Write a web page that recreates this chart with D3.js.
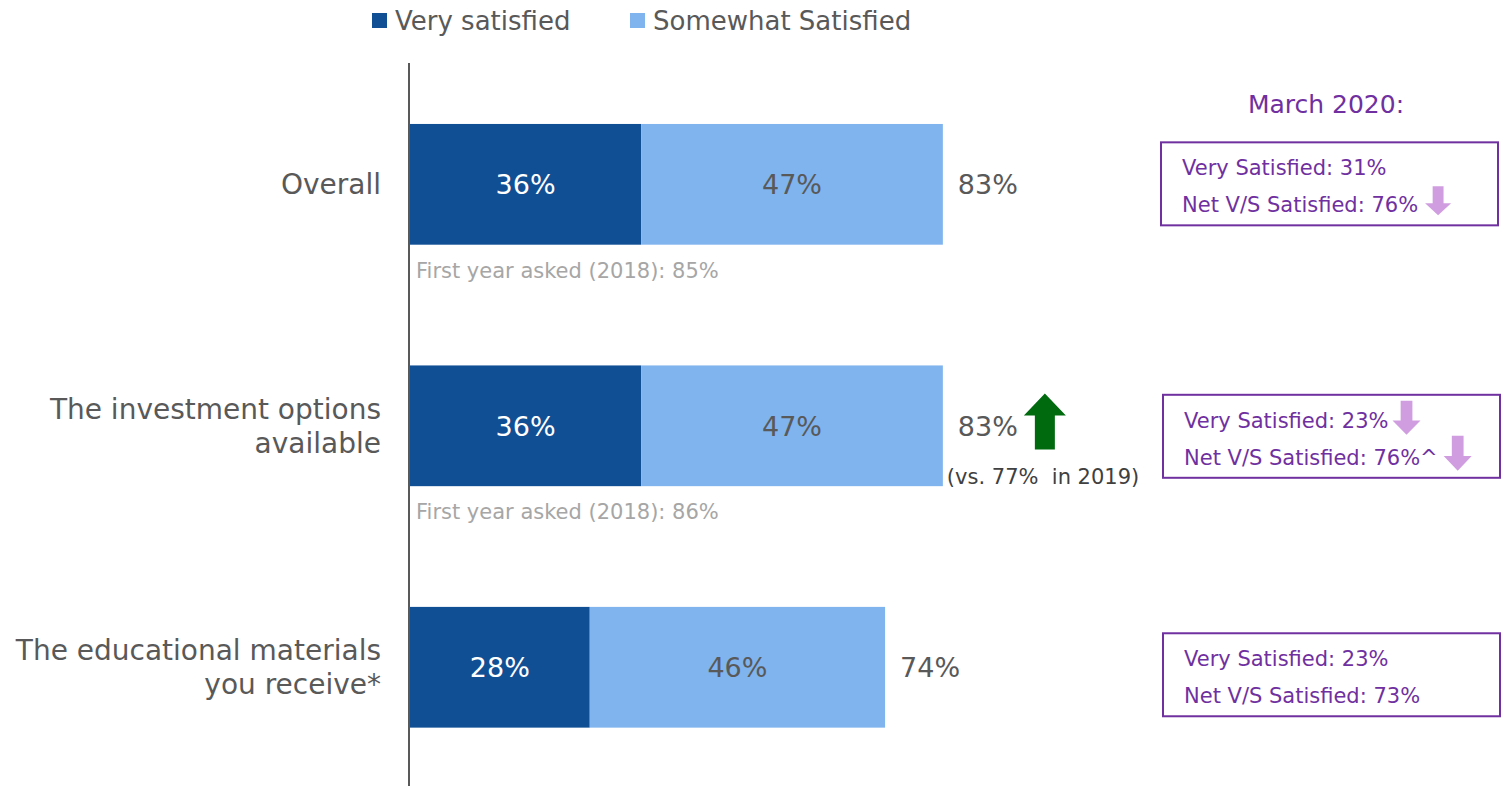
<!DOCTYPE html>
<html>
<head>
<meta charset="utf-8">
<script src="https://cdn.jsdelivr.net/npm/d3@7"></script>
<style>
  html, body { margin: 0; padding: 0; background: #fff; }
  svg { display: block; }
  text { font-family: "Century Gothic", "DejaVu Sans", sans-serif; white-space: pre; }
</style>
</head>
<body>
<svg id="chart" width="1505" height="786"></svg>
<script>
// ---- data ----
const categories = ["Overall", "The investment options available", "The educational materials you receive*"];
const categoryLines = [["Overall"], ["The investment options", "available"], ["The educational materials", "you receive*"]];
const seriesNames = ["Very satisfied", "Somewhat Satisfied"];
const verySatisfied = [36, 36, 28];
const somewhatSatisfied = [47, 47, 46];
const netSatisfied = [83, 83, 74];
const firstYearNotes = ["First year asked (2018): 85%", "First year asked (2018): 86%", ""];
const trendNote = ["", "(vs. 77%  in 2019)", ""];
const trendUp = [false, true, false];
const marchTitle = "March 2020:";
const marchVery = [31, 23, 23];
const marchNet = [76, 76, 73];
const marchNetSuffix = ["", "^", ""];
const marchVeryDown = [false, true, false];
const marchNetDown = [true, true, false];

// ---- layout / styles ----
const boxShift = [0, 11, 8];
const boxLeft = [1161, 1163, 1163];
const C_DARK = "#114f95", C_LIGHT = "#80b4ee", C_TEXT = "#595959", C_NOTE = "#a6a6a6";
const C_PURPLE = "#7030a0", C_LPURPLE = "#d09ee0", C_GREEN = "#006a0e";

const svg = d3.select("#chart");

const x = d3.scaleLinear().domain([0, 100]).range([410, 1052]);
const y = d3.scaleBand().domain(categories).range([63.6, 788]).paddingInner(0.5).paddingOuter(0.25);
const color = d3.scaleOrdinal().domain(seriesNames).range([C_DARK, C_LIGHT]);

const rows = categories.map((c, i) => ({
  cat: c, i,
  segs: [
    { name: seriesNames[0], x0: 0, x1: verySatisfied[i], v: verySatisfied[i] },
    { name: seriesNames[1], x0: verySatisfied[i], x1: verySatisfied[i] + somewhatSatisfied[i], v: somewhatSatisfied[i] }
  ]
}));

// bars
const g = svg.append("g");
rows.forEach(r => {
  r.segs.forEach((s, k) => {
    g.append("rect")
      .attr("x", x(s.x0)).attr("y", y(r.cat))
      .attr("width", x(s.x1) - x(s.x0)).attr("height", y.bandwidth())
      .attr("fill", color(s.name));
    g.append("text")
      .attr("x", (x(s.x0) + x(s.x1)) / 2).attr("y", y(r.cat) + y.bandwidth() / 2)
      .attr("dy", "0.36em").attr("text-anchor", "middle")
      .attr("font-size", 27).attr("fill", k === 0 ? "#fff" : C_TEXT)
      .text(s.v + "%");
  });
  // total
  g.append("text")
    .attr("x", x(netSatisfied[r.i]) + 15).attr("y", y(r.cat) + y.bandwidth() / 2)
    .attr("dy", "0.36em").attr("font-size", 27).attr("fill", C_TEXT)
    .text(netSatisfied[r.i] + "%");
  // first-year note
  if (firstYearNotes[r.i]) {
    g.append("text")
      .attr("x", x(0) + 6).attr("y", y(r.cat) + y.bandwidth() + 33)
      .attr("font-size", 21).attr("fill", C_NOTE)
      .text(firstYearNotes[r.i]);
  }
  if (trendUp[r.i]) {
    const cx = x(netSatisfied[r.i]) + 102, top = y(r.cat) + 28;
    g.append("path")
      .attr("d", `M${cx},${top} L${cx + 21},${top + 22} L${cx + 10},${top + 22} L${cx + 10},${top + 56} L${cx - 10},${top + 56} L${cx - 10},${top + 22} L${cx - 21},${top + 22} Z`)
      .attr("fill", C_GREEN);
  }
  if (trendNote[r.i]) {
    g.append("text")
      .attr("x", x(netSatisfied[r.i]) + 4).attr("y", y(r.cat) + y.bandwidth() - 2)
      .attr("font-size", 21).attr("fill", "#404040")
      .text(trendNote[r.i]);
  }
});

// category axis labels
rows.forEach(r => {
  const lines = categoryLines[r.i];
  const cy = y(r.cat) + y.bandwidth() / 2;
  const lh = 34;
  lines.forEach((ln, j) => {
    svg.append("text")
      .attr("x", 381).attr("y", cy + (j - (lines.length - 1) / 2) * lh)
      .attr("dy", "0.36em").attr("text-anchor", "end")
      .attr("font-size", 28).attr("fill", C_TEXT)
      .text(ln);
  });
});

// axis line
svg.append("line").attr("x1", 409).attr("x2", 409).attr("y1", 63).attr("y2", 786)
  .attr("stroke", "#595959").attr("stroke-width", 2);

// legend
const legendX = [372, 630];
seriesNames.forEach((n, k) => {
  svg.append("rect").attr("x", legendX[k]).attr("y", 13).attr("width", 15).attr("height", 15).attr("fill", color(n));
  svg.append("text").attr("x", legendX[k] + 23).attr("y", 30).attr("font-size", 26).attr("fill", C_TEXT).text(n);
});

// March 2020 boxes
svg.append("text").attr("x", 1326).attr("y", 113).attr("text-anchor", "middle")
  .attr("font-size", 25).attr("fill", C_PURPLE).text(marchTitle);

function downArrow(sel, ax, top, w, h) {
  const sw = w * 0.42, hh = h * 0.58;
  sel.append("path")
    .attr("d", `M${ax - sw / 2},${top} L${ax + sw / 2},${top} L${ax + sw / 2},${top + hh} L${ax + w / 2},${top + hh} L${ax},${top + h} L${ax - w / 2},${top + hh} L${ax - sw / 2},${top + hh} Z`)
    .attr("fill", C_LPURPLE);
}

rows.forEach(r => {
  const cy = y(r.cat) + y.bandwidth() / 2;
  const bx = boxLeft[r.i];
  const by = cy - 42 + boxShift[r.i];
  svg.append("rect").attr("x", bx).attr("y", by).attr("width", 337).attr("height", 83)
    .attr("fill", "none").attr("stroke", C_PURPLE).attr("stroke-width", 2);
  const t1 = svg.append("text").attr("x", bx + 21).attr("y", by + 33)
    .attr("font-size", 21).attr("fill", C_PURPLE).text(`Very Satisfied: ${marchVery[r.i]}%`);
  const t2 = svg.append("text").attr("x", bx + 21).attr("y", by + 70)
    .attr("font-size", 21).attr("fill", C_PURPLE).text(`Net V/S Satisfied: ${marchNet[r.i]}%${marchNetSuffix[r.i]}`);
  const e1 = bx + 21 + t1.node().getComputedTextLength();
  const e2 = bx + 21 + t2.node().getComputedTextLength();
  if (marchVeryDown[r.i]) {
    downArrow(svg, Math.max(e1 + 18, bx + 240), by + 6, 28, 34);
  }
  if (marchNetDown[r.i]) {
    if (marchVeryDown[r.i]) downArrow(svg, e2 + 20, by + 41, 28, 35);
    else downArrow(svg, e2 + 20, by + 44, 26, 29);
  }
});
</script>
</body>
</html>
